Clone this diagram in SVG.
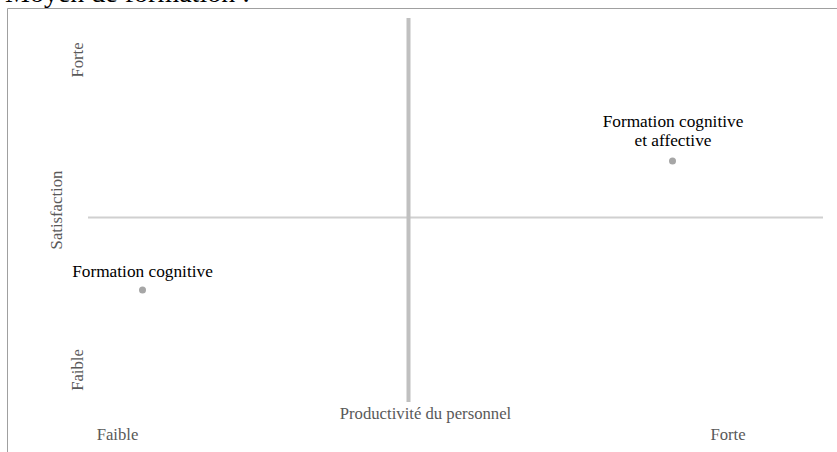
<svg xmlns="http://www.w3.org/2000/svg" width="837" height="452" viewBox="0 0 837 452">
<style>
  .t { font-family: "Liberation Serif", "Times New Roman", serif; }
  .g { fill: #595959; font-size: 16.7px; }
  .b { fill: #000000; font-size: 17.3px; }
  .pt { fill: #a6a6a6; }
</style>
<rect width="837" height="452" fill="#ffffff"/>
<text class="t" x="5" y="1.5" font-size="28" fill="#000">Moyen de formation :</text>
<g id="frame">
  <path d="M7.5 452 V8.5 H837" fill="none" stroke="#a0a0a0" stroke-width="1"/>
</g>
<g id="connectors">
  <line x1="88" y1="217.5" x2="823" y2="217.5" stroke="#d0d0d0" stroke-width="2"/>
  <line x1="408.5" y1="18" x2="408.5" y2="402" stroke="#c0c0c0" stroke-width="4"/>
</g>
<g id="axis-labels">
  <text class="t g" transform="translate(82.5 60) rotate(-90)" text-anchor="middle">Forte</text>
  <text class="t g" transform="translate(62 210) rotate(-90)" text-anchor="middle">Satisfaction</text>
  <text class="t g" transform="translate(82.5 370) rotate(-90)" text-anchor="middle">Faible</text>
  <text class="t g" x="425.5" y="419" text-anchor="middle">Productivité du personnel</text>
  <text class="t g" x="117.5" y="440" text-anchor="middle">Faible</text>
  <text class="t g" x="728" y="440" text-anchor="middle">Forte</text>
</g>
<g id="node-cog-aff">
  <circle class="pt" cx="672.5" cy="161" r="3.5"/>
  <text class="t b" x="673" y="127" text-anchor="middle">Formation cognitive</text>
  <text class="t b" x="673" y="146" text-anchor="middle">et affective</text>
</g>
<g id="node-cog">
  <circle class="pt" cx="142.5" cy="290" r="3.5"/>
  <text class="t b" x="142.5" y="277" text-anchor="middle">Formation cognitive</text>
</g>
</svg>
